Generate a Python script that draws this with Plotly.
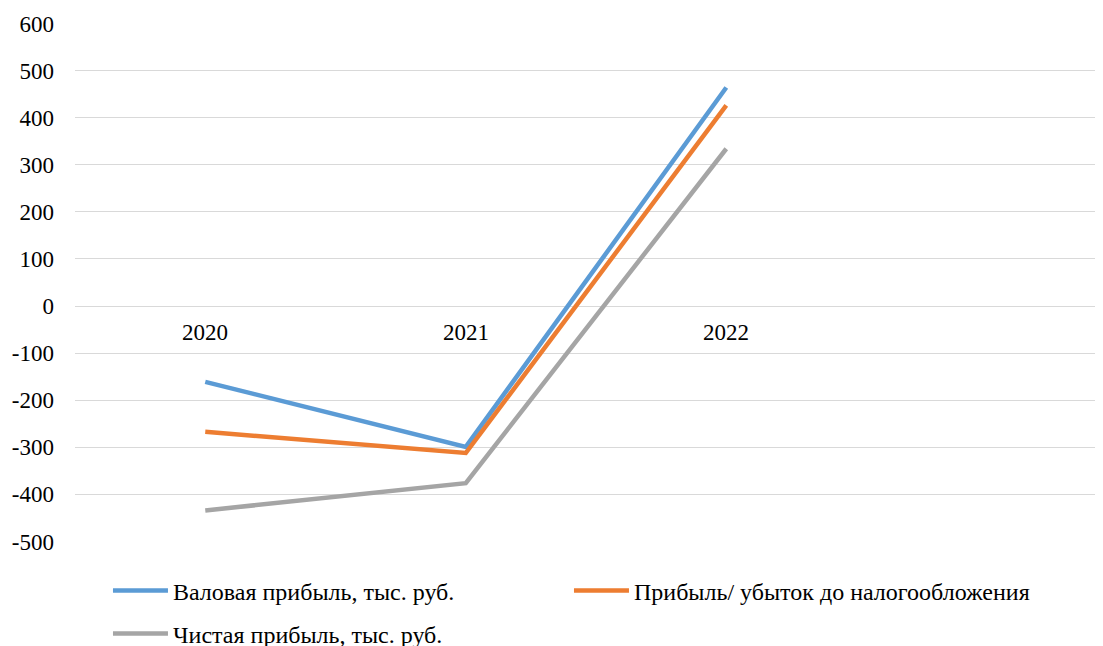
import plotly.graph_objects as go

# Данные
years = ["2020", "2021", "2022"]
gross_profit = [-161, -299, 464]      # Валовая прибыль, тыс. руб.
pretax_profit = [-267, -312, 426]     # Прибыль/ убыток до налогообложения
net_profit = [-434, -376, 334]        # Чистая прибыль, тыс. руб.
y_ticks = [600, 500, 400, 300, 200, 100, 0, -100, -200, -300, -400, -500]

FONT = "serif"
FS = 23

fig = go.Figure()
fig.add_trace(go.Scatter(x=years, y=gross_profit, mode="lines",
                         name="Валовая прибыль, тыс. руб.",
                         line=dict(color="#5B9BD5", width=4.5), legend="legend"))
fig.add_trace(go.Scatter(x=years, y=pretax_profit, mode="lines",
                         name="Прибыль/ убыток до налогообложения",
                         line=dict(color="#ED7D31", width=4.5), legend="legend"))
fig.add_trace(go.Scatter(x=years, y=net_profit, mode="lines",
                         name="Чистая прибыль, тыс. руб.",
                         line=dict(color="#A5A5A5", width=4.5), legend="legend2"))

# Подписи категорий у нулевой линии (как в Excel)
for i, yr in enumerate(years):
    fig.add_annotation(x=i, y=0, text=yr, showarrow=False, yanchor="top",
                       yshift=-12, font=dict(family=FONT, size=FS, color="black"))

fig.update_xaxes(type="category", range=[-0.5, 3.446], showticklabels=False,
                 showgrid=False, zeroline=False, showline=False)
fig.update_yaxes(range=[-501, 601], tickvals=y_ticks,
                 ticktext=[str(v) for v in y_ticks],
                 gridcolor="#D9D9D9", gridwidth=1.3, zeroline=False,
                 showline=False, ticklabelstandoff=20,
                 tickfont=dict(family=FONT, size=FS, color="black"))

# страница имеет отступ 8px, поэтому размеры чуть меньше окна
fig.update_layout(
    width=1095, height=638,
    margin=dict(l=67, r=0, t=15, b=104),
    plot_bgcolor="white", paper_bgcolor="white",
    font=dict(family=FONT, size=FS, color="black"),
    showlegend=True,
    legend=dict(orientation="h", xref="container", yref="container",
                x=0.0913, y=0.0862, xanchor="left", yanchor="middle",
                entrywidth=391, itemwidth=55,
                font=dict(family=FONT, size=24, color="black")),
    legend2=dict(orientation="h", xref="container", yref="container",
                 x=0.0913, y=0.0188, xanchor="left", yanchor="middle",
                 itemwidth=55,
                 font=dict(family=FONT, size=24, color="black")),
)

fig.write_html("out.html")
